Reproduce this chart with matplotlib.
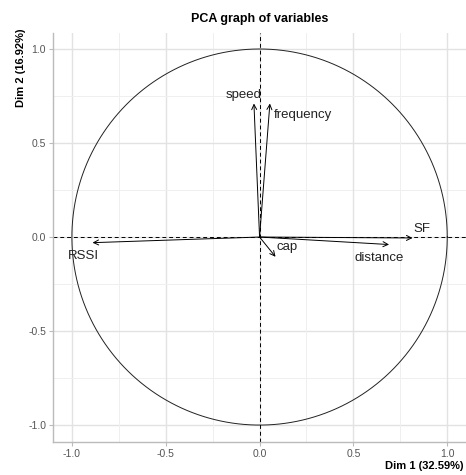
import numpy as np
import matplotlib.pyplot as plt

plt.rcParams['font.family'] = ['Liberation Sans', 'DejaVu Sans']

# variable coordinates on Dim 1 / Dim 2
variables = ["speed", "frequency", "RSSI", "SF", "distance", "cap"]
dim1 = [-0.03, 0.055, -0.89, 0.815, 0.69, 0.085]
dim2 = [0.71, 0.71, -0.03, -0.005, -0.04, -0.105]
ticks = [-1.0, -0.5, 0.0, 0.5, 1.0]
tick_labels = ["-1.0", "-0.5", "0.0", "0.5", "1.0"]

fig = plt.figure(figsize=(4.66, 4.75), dpi=100)
ax = fig.add_axes([0.114, 0.0695, 0.886, 0.861])

# grid
for t in np.arange(-1.0, 1.01, 0.25):
    major = abs(t * 2 - round(t * 2)) < 1e-9
    c = "#e2e2e2" if major else "#efefef"
    lw = 1.0 if major else 0.7
    ax.axvline(t, color=c, lw=lw, zorder=0)
    ax.axhline(t, color=c, lw=lw, zorder=0)

# unit circle
th = np.linspace(0, 2 * np.pi, 400)
ax.plot(np.cos(th), np.sin(th), color="#222222", lw=0.7, zorder=2)

# dashed axes
ax.axhline(0, color="black", lw=0.7, ls=(0, (4, 3)), zorder=2)
ax.axvline(0, color="black", lw=0.7, ls=(0, (4, 3)), zorder=2)

# arrows
for x, y in zip(dim1, dim2):
    ax.annotate("", xy=(x, y), xytext=(0, 0),
                arrowprops=dict(arrowstyle="->", color="black", lw=0.7,
                                mutation_scale=9, shrinkA=0, shrinkB=0),
                zorder=3)

# labels
label_offsets = {
    "speed": (-0.055, 0.045, "center"),
    "frequency": (0.02, -0.06, "left"),
    "RSSI": (-0.05, -0.07, "center"),
    "SF": (0.005, 0.048, "left"),
    "distance": (-0.183, -0.072, "left"),
    "cap": (0.005, 0.052, "left"),
}
for name, x, y in zip(variables, dim1, dim2):
    dx, dy, ha = label_offsets[name]
    ax.text(x + dx, y + dy, name, fontsize=9.5, ha=ha, va="center",
            color="#222222", zorder=4)

ax.set_xlim(-1.1, 1.1)
ax.set_ylim(-1.09, 1.085)
ax.set_xticks(ticks)
ax.set_xticklabels(tick_labels)
ax.set_yticks(ticks)
ax.set_yticklabels(tick_labels)
ax.tick_params(length=3, width=0.8, color="#bbbbbb", labelsize=7.5,
               labelcolor="#555555", pad=2)

for side in ["top", "right"]:
    ax.spines[side].set_visible(False)
for side in ["left", "bottom"]:
    ax.spines[side].set_color("#bbbbbb")
    ax.spines[side].set_linewidth(1.0)

ax.set_title("PCA graph of variables", fontsize=9, fontweight="bold", pad=8)
fig.text(0.995, 0.018, "Dim 1 (32.59%)", ha="right", va="center",
         fontsize=8, fontweight="bold")
fig.text(0.044, 0.941, "Dim 2 (16.92%)", ha="center", va="top",
         rotation=90, fontsize=8, fontweight="bold")

fig.savefig("out.png", dpi=100)
